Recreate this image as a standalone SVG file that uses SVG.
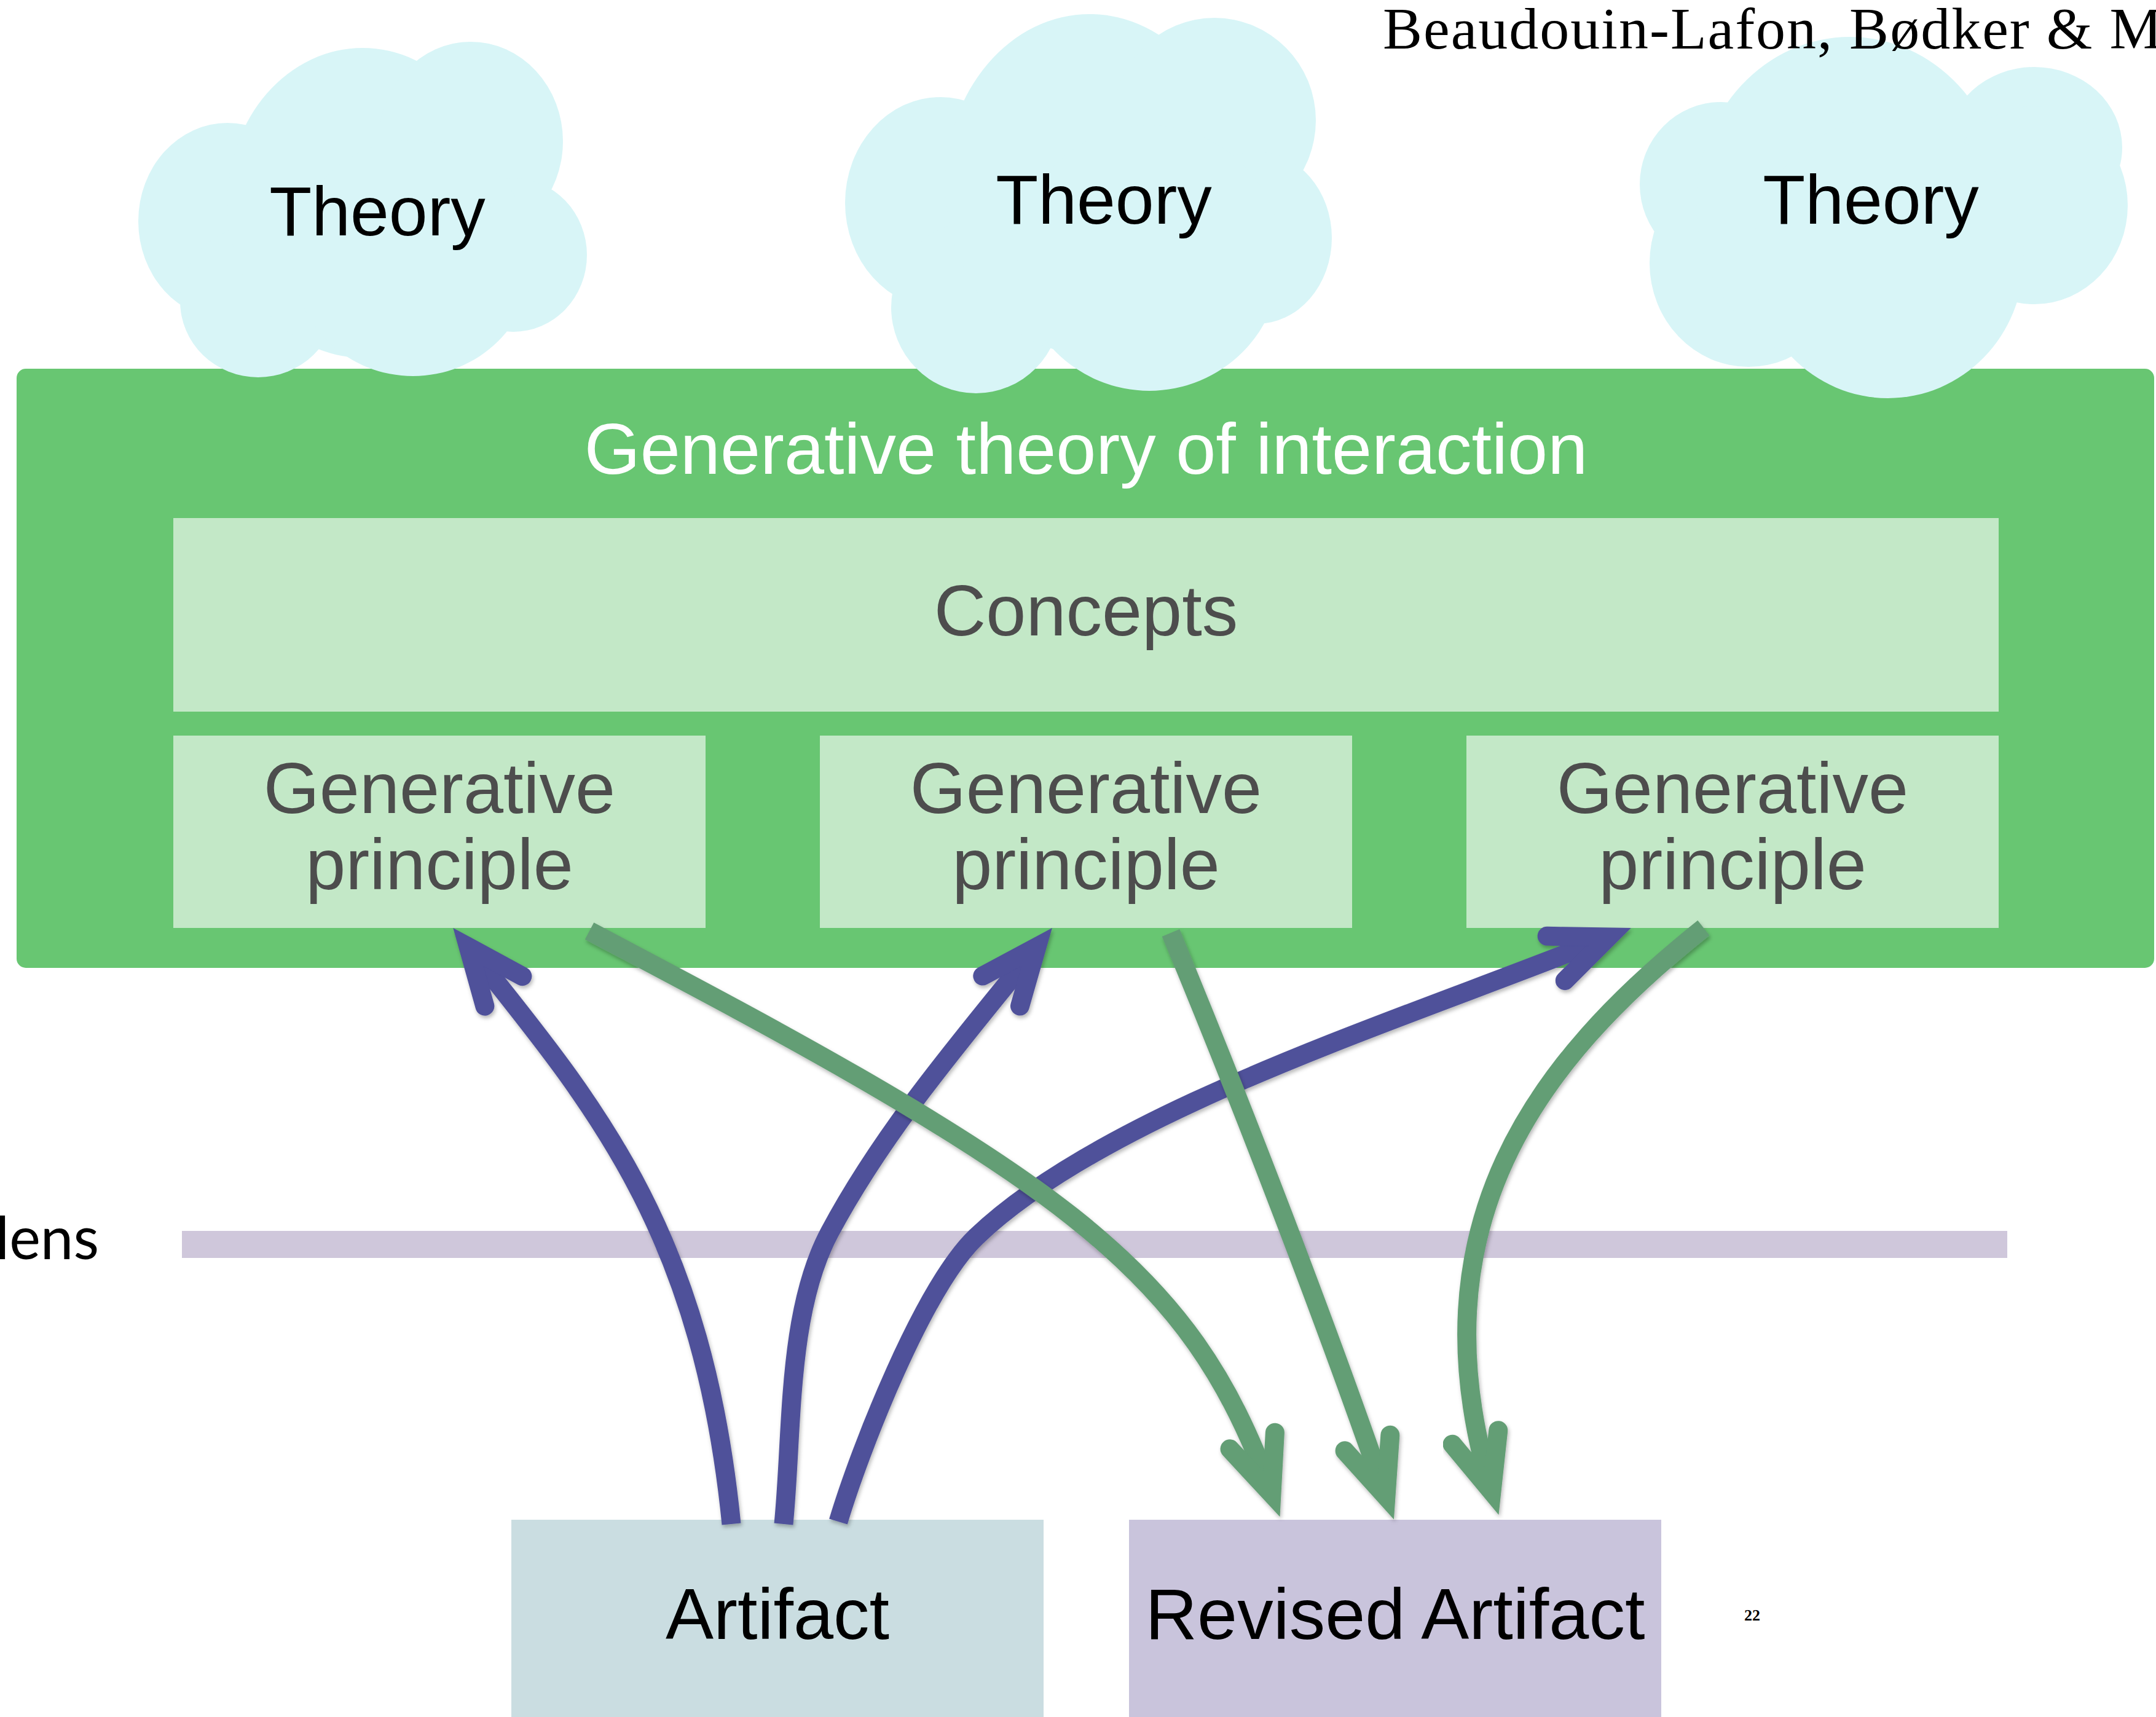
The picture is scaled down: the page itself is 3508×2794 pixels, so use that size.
<svg xmlns="http://www.w3.org/2000/svg" width="3508" height="2794" viewBox="0 0 3508 2794">
  <style>
    .sans { font-family: "Liberation Sans", Arial, Helvetica, sans-serif; }
    .cloud { fill: #d8f5f7; }
    .cloud-label { font-size: 113px; fill: #000000; text-anchor: middle; }
    .inner { fill: #c3e8c7; }
    .inner-label { font-size: 117px; fill: #4d4d4d; text-anchor: middle; }
    .artifact-label { font-size: 117px; fill: #000000; text-anchor: middle; }
    .purple { fill: none; stroke: #4f519a; stroke-width: 31; stroke-linecap: butt; marker-end: url(#head-purple); filter: url(#soft-shadow); }
    .green { fill: none; stroke: #639e75; stroke-width: 31; stroke-linecap: butt; marker-end: url(#head-green); filter: url(#soft-shadow); }
  </style>
  <defs>
    <filter id="soft-shadow" x="-10%" y="-10%" width="120%" height="120%">
      <feDropShadow dx="2" dy="4" stdDeviation="3" flood-color="#000000" flood-opacity="0.28"/>
    </filter>
    <marker id="head-purple" markerUnits="userSpaceOnUse" orient="auto" viewBox="-150 -150 300 300" refX="0" refY="0" markerWidth="300" markerHeight="300" overflow="visible">
      <path d="M -92 -39 L 0 0 L -92 39" fill="none" stroke="#4f519a" stroke-width="31" stroke-linecap="round" stroke-linejoin="miter" stroke-miterlimit="10"/>
    </marker>
    <marker id="head-green" markerUnits="userSpaceOnUse" orient="auto" viewBox="-150 -150 300 300" refX="0" refY="0" markerWidth="300" markerHeight="300" overflow="visible">
      <path d="M -92 -39 L 0 0 L -92 39" fill="none" stroke="#639e75" stroke-width="31" stroke-linecap="round" stroke-linejoin="miter" stroke-miterlimit="10"/>
    </marker>
  </defs>

  <rect width="3508" height="2794" fill="#ffffff"/>

  <!-- Generative theory container -->
  <g id="generative-theory">
    <rect x="27" y="600" width="3478" height="975" rx="15" ry="15" fill="#68c672"/>
    <text class="sans" x="1767" y="771" font-size="117" fill="#ffffff" text-anchor="middle">Generative theory of interaction</text>
  </g>

  <g id="concepts">
    <rect class="inner" x="282" y="843" width="2970" height="315"/>
    <text class="sans inner-label" x="1767" y="1034">Concepts</text>
  </g>

  <g id="principle-1">
    <rect class="inner" x="282" y="1197" width="866" height="313"/>
    <text class="sans inner-label" x="715" y="1323">Generative</text>
    <text class="sans inner-label" x="715" y="1447">principle</text>
  </g>
  <g id="principle-2">
    <rect class="inner" x="1334" y="1197" width="866" height="313"/>
    <text class="sans inner-label" x="1767" y="1323">Generative</text>
    <text class="sans inner-label" x="1767" y="1447">principle</text>
  </g>
  <g id="principle-3">
    <rect class="inner" x="2386" y="1197" width="866" height="313"/>
    <text class="sans inner-label" x="2819" y="1323">Generative</text>
    <text class="sans inner-label" x="2819" y="1447">principle</text>
  </g>

  <!-- Theory clouds, each a union of overlapping lobes -->
  <g id="theory-1">
    <g class="cloud">
      <ellipse cx="370" cy="360" rx="145" ry="160"/>
      <ellipse cx="420" cy="490" rx="127" ry="124"/>
      <ellipse cx="590" cy="330" rx="220" ry="252"/>
      <ellipse cx="766" cy="230" rx="150" ry="162"/>
      <ellipse cx="835" cy="415" rx="120" ry="125"/>
      <ellipse cx="672" cy="420" rx="195" ry="192"/>
    </g>
    <text class="sans cloud-label" x="614" y="383">Theory</text>
  </g>
  <g id="theory-2">
    <g class="cloud">
      <ellipse cx="1530" cy="330" rx="155" ry="172"/>
      <ellipse cx="1588" cy="500" rx="138" ry="140"/>
      <ellipse cx="1773" cy="300" rx="235" ry="277"/>
      <ellipse cx="1976" cy="196" rx="165" ry="167"/>
      <ellipse cx="2045" cy="387" rx="122" ry="140"/>
      <ellipse cx="1870" cy="420" rx="215" ry="216"/>
    </g>
    <text class="sans cloud-label" x="1796" y="364">Theory</text>
  </g>
  <g id="theory-3">
    <g class="cloud">
      <ellipse cx="2800" cy="300" rx="132" ry="134"/>
      <ellipse cx="2845" cy="428" rx="161" ry="169"/>
      <ellipse cx="3010" cy="330" rx="250" ry="270"/>
      <ellipse cx="3310" cy="240" rx="143" ry="131"/>
      <ellipse cx="3310" cy="334" rx="152" ry="161"/>
      <ellipse cx="3072" cy="420" rx="221" ry="228"/>
    </g>
    <text class="sans cloud-label" x="3044" y="364">Theory</text>
  </g>

  <!-- Header and page number -->
  <text x="2250" y="79" font-family="'Liberation Serif', 'Times New Roman', serif" font-size="96" letter-spacing="2" fill="#000000">Beaudouin-Lafon, Bødker &amp; M</text>
  <text x="2851" y="2637" font-family="'Liberation Serif', 'Times New Roman', serif" font-size="26" font-weight="bold" fill="#000000" text-anchor="middle">22</text>

  <!-- Lens -->
  <g id="lens">
    <rect x="296" y="2003" width="2970" height="44" fill="#cfc7db"/>
    <text x="161" y="2049" font-family="Lato, 'Noto Sans', sans-serif" font-size="96" fill="#000000" text-anchor="end">lens</text>
  </g>

  <!-- Artifacts -->
  <g id="artifact">
    <rect x="832" y="2473" width="866" height="321" fill="#cadde1"/>
    <text class="sans artifact-label" x="1265" y="2667">Artifact</text>
  </g>
  <g id="revised-artifact">
    <rect x="1837" y="2473" width="866" height="321" fill="#c9c4dc"/>
    <text class="sans artifact-label" x="2270" y="2667">Revised Artifact</text>
  </g>

  <!-- Connectors -->
  <g id="connectors">
    <path class="purple" d="M 1190 2480 C 1142 1999, 967 1798, 762 1541"/>
    <path class="purple" d="M 1275 2480 C 1290 2330, 1279.5 2137, 1350 2005 C 1439 1838, 1567.5 1689, 1687 1541"/>
    <path class="purple" d="M 1364 2476 C 1399 2359, 1502 2096, 1588 2013 C 1804 1806, 2293 1656, 2617 1525"/>
    <path class="green" d="M 959 1515 C 1189 1637, 1542 1819, 1745 1980 C 1917 2116, 2001 2243, 2069 2431"/>
    <path class="green" d="M 1905 1518 C 2020 1795, 2157 2151, 2255 2435"/>
    <path class="green" d="M 2772 1510 C 2499 1727, 2297 1996, 2427 2427"/>
  </g>
</svg>
